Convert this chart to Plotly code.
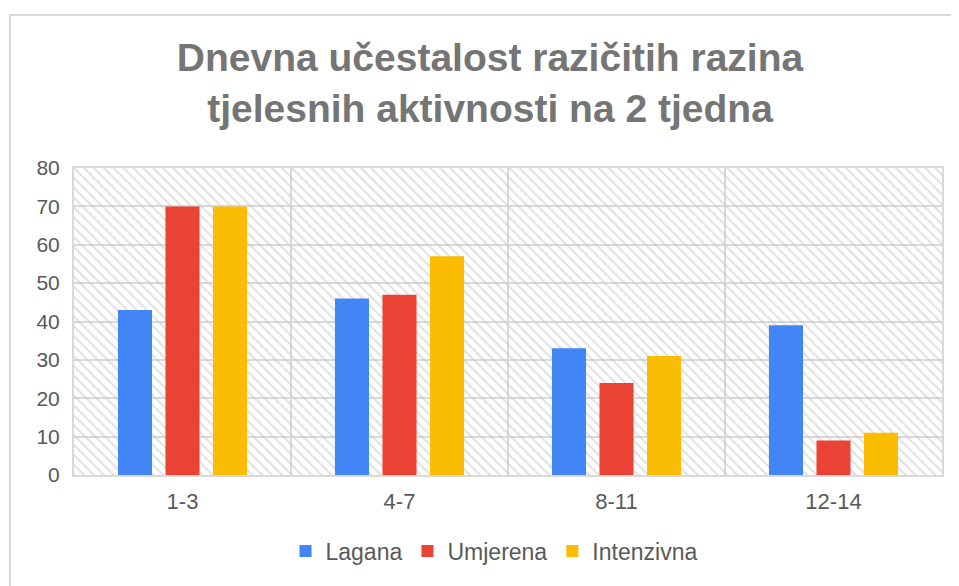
import plotly.graph_objects as go

categories = ["1-3", "4-7", "8-11", "12-14"]
lagana = [43, 46, 33, 39]
umjerena = [70, 47, 24, 9]
intenzivna = [70, 57, 31, 11]
series_names = ["Lagana", "Umjerena", "Intenzivna"]
colors = ["#4285F4", "#EA4335", "#FBBC04"]
y_ticks = [0, 10, 20, 30, 40, 50, 60, 70, 80]

OFF = 8  # page body margin
W, H = 959 - OFF, 586 - OFF
ML, MR, MT, MB = 74 - OFF, 17, 168 - OFF, 111
pw, ph = W - ML - MR, H - MT - MB

def px_x(p):
    return (p - OFF - ML) / pw

def px_y(p):
    return (H - MB - (p - OFF)) / ph

xpos = list(range(len(categories)))
fig = go.Figure()

# hatched plot background
fig.add_trace(go.Bar(
    x=[(len(categories) - 1) / 2], y=[y_ticks[-1]], width=[len(categories)],
    marker=dict(color="rgba(0,0,0,0)", line=dict(width=0),
                pattern=dict(shape="\\", fgcolor="#c4c4c4", bgcolor="rgba(0,0,0,0)",
                             size=7, solidity=0.3)),
    showlegend=False, hoverinfo="skip"))

bw = 0.157
offsets = [-0.219 - bw / 2, -bw / 2, 0.219 - bw / 2]
for name, vals, col, off in zip(series_names, [lagana, umjerena, intenzivna], colors, offsets):
    fig.add_trace(go.Bar(x=xpos, y=vals, name=name, width=bw, offset=off,
                         marker=dict(color=col, line=dict(width=0))))

fig.update_layout(
    width=W, height=H, barmode="overlay",
    margin=dict(l=ML, r=MR, t=MT, b=MB),
    paper_bgcolor="white", plot_bgcolor="white",
    font=dict(family="Liberation Sans, Arial, sans-serif", color="#595959"),
    title=dict(text="Dnevna učestalost razičitih razina<br>tjelesnih aktivnosti na 2 tjedna",
               x=(490 - OFF) / W, xref="container", y=1 - 63 / H, yref="container",
               xanchor="center", yanchor="top",
               font=dict(size=39, color="#757575", family="Liberation Sans, Arial, sans-serif",
                         weight="bold")),
    xaxis=dict(range=[-0.5, len(categories) - 0.5], tickvals=xpos, ticktext=categories,
               showgrid=False, zeroline=False, ticks="",
               showline=True, linecolor="#d9d9d9", linewidth=2, mirror=True,
               tickfont=dict(size=22, color="#595959"), ticklabelstandoff=6,
               minor=dict(tickvals=[0.5, 1.5, 2.5], showgrid=True, gridcolor="#d9d9d9",
                          gridwidth=2, ticks="")),
    yaxis=dict(range=[0, 80], tickvals=y_ticks, showgrid=True, gridcolor="#d9d9d9",
               gridwidth=2, zeroline=False, ticks="", ticklabelstandoff=8,
               showline=True, linecolor="#d9d9d9", linewidth=2, mirror=True,
               tickfont=dict(size=21, color="#595959")),
    legend=dict(orientation="h", x=px_x(494), xanchor="center", y=px_y(551), yanchor="middle",
                font=dict(size=23, color="#595959"), itemwidth=30, traceorder="normal"),
    shapes=[dict(type="path", xref="paper", yref="paper",
                 path=f"M {px_x(10)},{px_y(590)} L {px_x(10)},{px_y(15)} L {px_x(958)},{px_y(15)}",
                 line=dict(color="#d9d9d9", width=2))],
)

fig.write_html("out.html")
